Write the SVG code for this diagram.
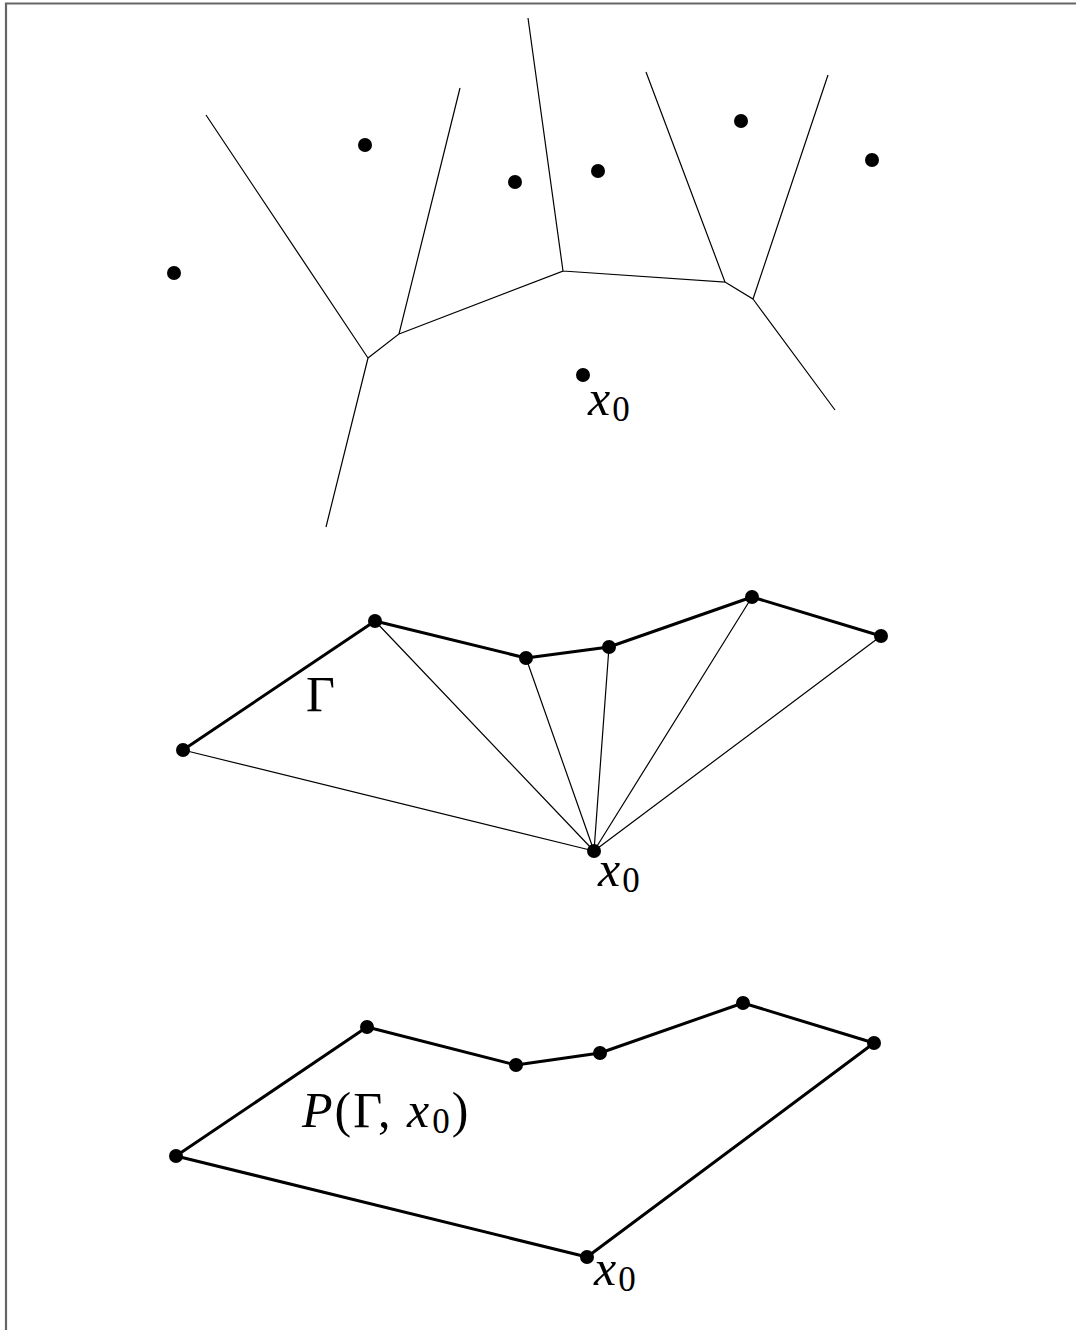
<svg xmlns="http://www.w3.org/2000/svg" width="1076" height="1330" viewBox="0 0 1076 1330">
<style>
.thin{stroke:#000;stroke-width:1.2;fill:none}
.thick{stroke:#000;stroke-width:3;fill:none;stroke-linejoin:round}
.pt{fill:#000}
.lbl{font-family:"Liberation Serif","DejaVu Serif",serif;font-size:50px;fill:#000}
.it{font-style:italic}
.sub{font-size:35px}
</style>
<rect width="1076" height="1330" fill="#fff"/>
<path d="M6,1330 V3.5 H1076" stroke="#666" stroke-width="2.2" fill="none"/>
<g id="voronoi">
<g id="voronoi-edges">
<path class="thin" d="M206,115 L368,358 L326,527 M368,358 L399,334 L460,88 M399,334 L563,271 L528,18 M563,271 L725,282 L646,72 M725,282 L753,299 L828,75 M753,299 L835,410"/>
</g>
<g id="voronoi-sites">
<circle class="pt" cx="174" cy="273" r="7"/>
<circle class="pt" cx="365" cy="145" r="7"/>
<circle class="pt" cx="515" cy="182" r="7"/>
<circle class="pt" cx="598" cy="171" r="7"/>
<circle class="pt" cx="741" cy="121" r="7"/>
<circle class="pt" cx="872" cy="160" r="7"/>
<circle class="pt" cx="583" cy="375" r="7"/>
</g>
<text class="lbl it" x="588" y="415">x<tspan class="sub" font-style="normal" dx="2" dy="6">0</tspan></text>
</g>
<g id="triangulation">
<g id="tri-edges">
<path class="thin" d="M594,851 L183,750 M594,851 L375,621 M594,851 L526,658 M594,851 L609,647 M594,851 L752,597 M594,851 L881,636"/>
<path class="thick" d="M183,750 L375,621 L526,658 L609,647 L752,597 L881,636"/>
</g>
<g id="tri-points">
<circle class="pt" cx="183" cy="750" r="7"/>
<circle class="pt" cx="375" cy="621" r="7"/>
<circle class="pt" cx="526" cy="658" r="7"/>
<circle class="pt" cx="609" cy="647" r="7"/>
<circle class="pt" cx="752" cy="597" r="7"/>
<circle class="pt" cx="881" cy="636" r="7"/>
<circle class="pt" cx="594" cy="851" r="7"/>
</g>
<text class="lbl" x="306" y="711">Γ</text>
<text class="lbl it" x="598" y="886">x<tspan class="sub" font-style="normal" dx="2" dy="6">0</tspan></text>
</g>
<g id="polygon">
<g id="poly-edges">
<path class="thick" d="M176,1156 L367,1027 L516,1065 L600,1053 L743,1003 L874,1043 L587,1257 Z"/>
</g>
<g id="poly-points">
<circle class="pt" cx="176" cy="1156" r="7"/>
<circle class="pt" cx="367" cy="1027" r="7"/>
<circle class="pt" cx="516" cy="1065" r="7"/>
<circle class="pt" cx="600" cy="1053" r="7"/>
<circle class="pt" cx="743" cy="1003" r="7"/>
<circle class="pt" cx="874" cy="1043" r="7"/>
<circle class="pt" cx="587" cy="1257" r="7"/>
</g>
<text class="lbl" x="302" y="1127" letter-spacing="2"><tspan class="it">P</tspan>(Γ, <tspan class="it">x</tspan><tspan class="sub" dx="1" dy="6">0</tspan><tspan dy="-6">)</tspan></text>
<text class="lbl it" x="594" y="1285">x<tspan class="sub" font-style="normal" dx="2" dy="6">0</tspan></text>
</g>
</svg>
